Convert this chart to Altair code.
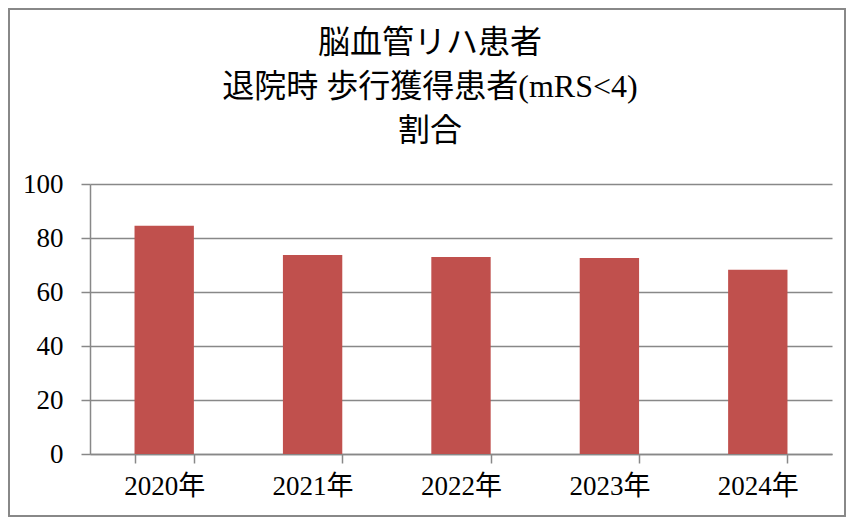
import altair as alt
import pandas as pd

years = ["2020年", "2021年", "2022年", "2023年", "2024年"]
values = [84.5, 73.7, 73.0, 72.6, 68.2]
title_lines = ["脳血管リハ患者", "退院時 歩行獲得患者(mRS<4)", "割合"]

df = pd.DataFrame({"year": years, "value": values})

FONT = "Liberation Serif, Noto Sans CJK JP"
GRAY = "#888888"

bars = alt.Chart(df).mark_bar(color="#C0504D").encode(
    x=alt.X("year:N", sort=years, title=None,
            scale=alt.Scale(paddingInner=0.6, paddingOuter=0.3),
            axis=alt.Axis(labelAngle=0, labelFontSize=27, labelFont=FONT,
                          labelColor="#000000", tickBand="extent",
                          tickSize=9, tickColor=GRAY, tickWidth=1.5,
                          domainColor=GRAY, domainWidth=1.5,
                          labelPadding=10, grid=False)),
    y=alt.Y("value:Q", title=None,
            scale=alt.Scale(domain=[0, 100], nice=False),
            axis=alt.Axis(values=[0, 20, 40, 60, 80, 100], labelFontSize=27,
                          labelFont=FONT, labelColor="#000000",
                          tickSize=9, tickColor=GRAY, tickWidth=1.5,
                          domainColor=GRAY, domainWidth=1.5,
                          gridColor=GRAY, gridWidth=1.5,
                          labelPadding=18)),
)

border = alt.Chart(df).mark_rect(fill=None, stroke=GRAY, strokeWidth=1.5).encode(
    x=alt.value(-81), x2=alt.value(755), y=alt.value(-175), y2=alt.value(332)
)

chart = alt.layer(border, bars).properties(
    width=742, height=270,
    padding={"left": 82, "top": 176, "right": 15, "bottom": 63},
    autosize=alt.AutoSizeParams(type="none"),
    title=alt.TitleParams(title_lines, font=FONT, fontSize=32, lineHeight=44,
                          fontWeight="normal", color="#000000", anchor="middle",
                          offset=0, dy=140, dx=-31),
).configure_view(stroke=None)

chart.save("out.html", embed_options={"renderer": "svg", "actions": False})
